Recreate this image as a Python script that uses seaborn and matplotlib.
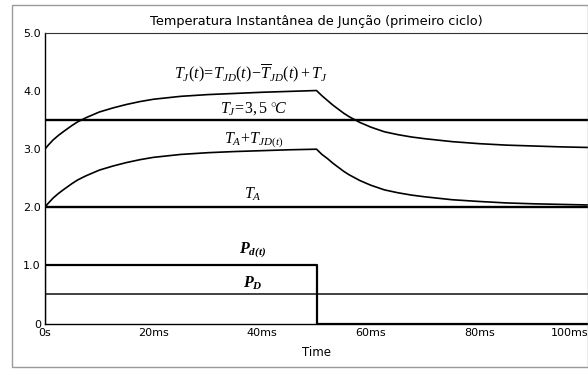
import matplotlib
matplotlib.use("Agg")
import matplotlib.pyplot as plt
import seaborn as sns
import pandas as pd
from matplotlib.patches import Rectangle

# time axis in milliseconds
t_ms = [0, 0.5, 1, 1.5, 2, 2.5, 3.5, 5, 6, 7.5, 10, 12.5, 15, 17.5, 20, 25, 30,
        35, 40, 45, 50,
        51, 52, 53, 54, 55, 56, 57, 58, 59, 60, 62.5, 65, 67.5, 70, 75, 80, 85,
        90, 95, 100]

# ambient + junction rise, T_A + T_JD(t)
ta_tjd = [2.00, 2.06, 2.11, 2.16, 2.20, 2.24, 2.31, 2.41, 2.47, 2.54, 2.64, 2.71,
          2.77, 2.82, 2.86, 2.91, 2.94, 2.96, 2.975, 2.99, 3.00,
          2.91, 2.84, 2.76, 2.69, 2.62, 2.56, 2.51, 2.46, 2.42, 2.38, 2.30, 2.25,
          2.21, 2.18, 2.13, 2.10, 2.075, 2.06, 2.05, 2.04]

# instantaneous junction temperature T_J(t)
tj_inst = [3.00, 3.06, 3.11, 3.16, 3.20, 3.24, 3.31, 3.41, 3.47, 3.54, 3.64, 3.71,
           3.77, 3.82, 3.86, 3.91, 3.94, 3.96, 3.98, 3.995, 4.01,
           3.92, 3.84, 3.76, 3.69, 3.62, 3.56, 3.51, 3.46, 3.42, 3.38, 3.30, 3.25,
           3.21, 3.18, 3.13, 3.095, 3.07, 3.055, 3.04, 3.03]

# power pulse P_d(t)
pulse_t = [0, 0, 50, 50, 100]
pulse_p = [0, 1, 1, 0, 0]

# constant levels
tj_mean = 3.5
t_amb = 2.0
p_mean = 0.5
t_span = [0, 100]

xticks = [0, 20, 40, 60, 80, 100]
xticklabels = ["0s", "20ms", "40ms", "60ms", "80ms", "100ms"]
yticks = [0, 1, 2, 3, 4, 5]
yticklabels = ["0", "1.0", "2.0", "3.0", "4.0", "5.0"]

sns.set_style("white")
plt.rcParams["font.family"] = ["DejaVu Sans"]
plt.rcParams["text.color"] = "black"
plt.rcParams["axes.labelcolor"] = "black"
plt.rcParams["xtick.color"] = "black"
plt.rcParams["ytick.color"] = "black"
plt.rcParams["mathtext.fontset"] = "custom"
plt.rcParams["mathtext.rm"] = "Liberation Serif"
plt.rcParams["mathtext.it"] = "Liberation Serif:italic"
plt.rcParams["mathtext.bf"] = "Liberation Serif:italic:bold"

W, H = 588, 369
fig = plt.figure(figsize=(W / 100, H / 100), dpi=100)
ax = fig.add_axes([45 / W, (H - 323.5) / H, (W - 45) / W, (323.5 - 33) / H])

# outer frame
fig.patches.append(Rectangle((12 / W, 2 / H), 575.5 / W, 362 / H,
                             transform=fig.transFigure, fill=False,
                             edgecolor="#9a9a9a", linewidth=1.0))

curves = pd.DataFrame({"t": t_ms, "low": ta_tjd, "high": tj_inst})
pulse = pd.DataFrame({"t": pulse_t, "p": pulse_p})
levels = pd.DataFrame({"t": t_span, "tj": [tj_mean] * 2, "ta": [t_amb] * 2,
                       "pd": [p_mean] * 2})

sns.lineplot(data=curves, x="t", y="high", ax=ax, color="black", lw=1.2,
             estimator=None, sort=False)
sns.lineplot(data=curves, x="t", y="low", ax=ax, color="black", lw=1.2,
             estimator=None, sort=False)
sns.lineplot(data=levels, x="t", y="tj", ax=ax, color="black", lw=1.7,
             estimator=None, sort=False)
sns.lineplot(data=levels, x="t", y="ta", ax=ax, color="black", lw=1.7,
             estimator=None, sort=False)
sns.lineplot(data=levels, x="t", y="pd", ax=ax, color="#333333", lw=1.3,
             estimator=None, sort=False)
sns.lineplot(data=pulse, x="t", y="p", ax=ax, color="black", lw=1.6,
             estimator=None, sort=False)

ax.set_xlim(0, 100)
ax.set_ylim(0, 5)
ax.set_xticks(xticks)
ax.set_xticklabels(xticklabels)
ax.set_yticks(yticks)
ax.set_yticklabels(yticklabels)
ax.tick_params(axis="both", labelsize=8, direction="inout", length=4,
               width=0.8, color="black", pad=1)
ax.get_xticklabels()[-1].set_horizontalalignment("right")
ax.set_xlabel("Time", fontsize=8.5, labelpad=6)
ax.set_ylabel("")
ax.set_title("Temperatura Instantânea de Junção (primeiro ciclo)",
             fontsize=9.3, pad=6)

for side in ["left", "bottom"]:
    ax.spines[side].set_color("black")
    ax.spines[side].set_linewidth(1.0)
ax.spines["top"].set_color("#333333")
ax.spines["top"].set_linewidth(0.8)
ax.spines["right"].set_visible(False)

# curve annotations
ax.text(38.0, 4.3, r"$T_J(t)\!=\!T_{JD}(t)\!-\!\overline{T}_{JD}(t)+T_J$",
        ha="center", va="center", fontsize=11.5)
ax.text(38.5, 3.70, r"$T_J\!=\!\mathit{3,5}\ ^{\circ}\!C$",
        ha="center", va="center", fontsize=11.5)
ax.text(38.5, 3.15, r"$T_A\!+\!T_{JD(t)}$",
        ha="center", va="center", fontsize=11.5)
ax.text(38.3, 2.22, r"$T_A$", ha="center", va="center", fontsize=11.5)
ax.text(38.3, 1.25, r"$\mathbf{P}_{\mathbf{d(t)}}$", ha="center", va="center",
        fontsize=11.5)
ax.text(38.3, 0.7, r"$\mathbf{P}_{\mathbf{D}}$", ha="center", va="center",
        fontsize=11.5)

fig.savefig("out.png", dpi=100)
